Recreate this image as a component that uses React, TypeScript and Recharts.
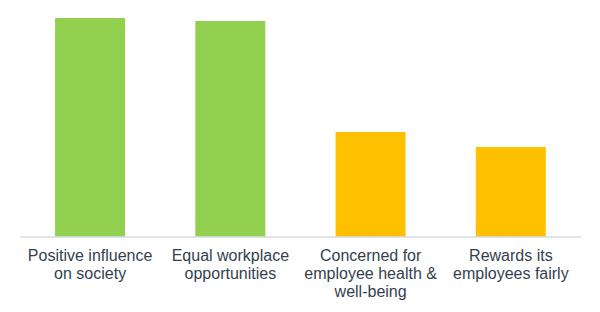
import { BarChart, Bar, XAxis, YAxis, Cell } from 'recharts';

const categories = [
  ['Positive influence', 'on society'],
  ['Equal workplace', 'opportunities'],
  ['Concerned for', 'employee health &', 'well-being'],
  ['Rewards its', 'employees fairly'],
];
const values = [73, 72, 35, 30];
const barColors = ['#92D050', '#92D050', '#FFC000', '#FFC000'];

const data = categories.map((lines, i) => ({ name: lines.join(' '), idx: i, value: values[i] }));

function WrappedTick(props: any) {
  const { x, y, payload } = props;
  const lines = categories[payload.index ?? 0] ?? [payload.value];
  return (
    <text x={x} y={y} textAnchor="middle" fill="#333F4F" fontSize={16} fontFamily="'Liberation Sans', Arial, sans-serif">
      {lines.map((line: string, i: number) => (
        <tspan key={i} x={x} dy={i === 0 ? 16 : 18}>
          {line}
        </tspan>
      ))}
    </text>
  );
}

export default function App() {
  return (
    <div style={{ position: 'absolute', left: 0, top: 0, width: 600, height: 312, background: '#fff' }}>
      <BarChart width={600} height={312} data={data} margin={{ top: 18, right: 19, bottom: 0, left: 20 }} barCategoryGap="25%">
        <XAxis
          dataKey="name"
          interval={0}
          height={75}
          tick={<WrappedTick />}
          tickLine={false}
          axisLine={{ stroke: '#D6DCE5', strokeWidth: 1.5 }}
        />
        <YAxis hide domain={[0, 73]} />
        <Bar dataKey="value" isAnimationActive={false}>
          {data.map((d) => (
            <Cell key={d.idx} fill={barColors[d.idx]} />
          ))}
        </Bar>
      </BarChart>
    </div>
  );
}
